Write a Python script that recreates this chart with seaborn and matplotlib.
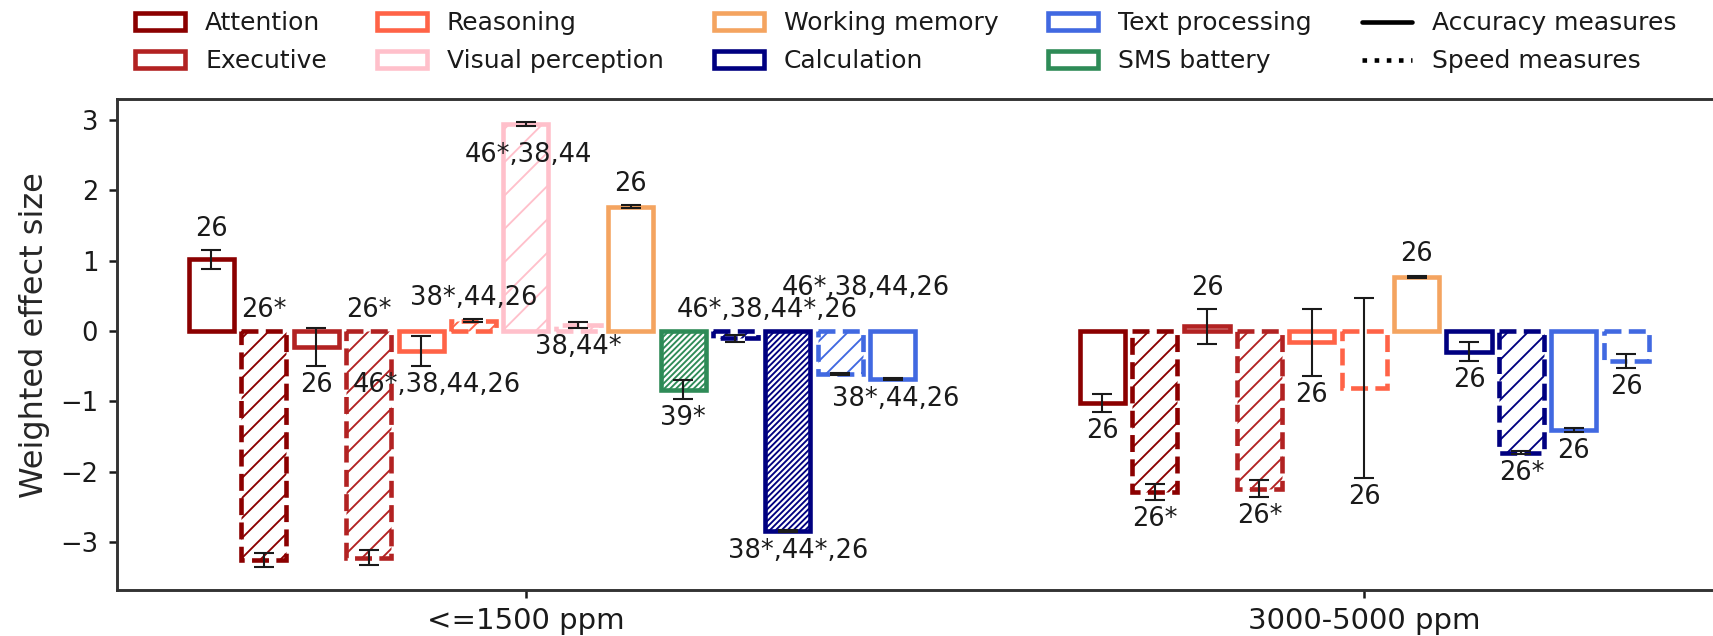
import matplotlib
matplotlib.use("Agg")
import matplotlib.pyplot as plt
from matplotlib.patches import Patch
from matplotlib.lines import Line2D
import pandas as pd
import seaborn as sns

# ---- data -------------------------------------------------------------
domains = ["Attention", "Executive", "Reasoning", "Visual perception",
           "Working memory", "Calculation", "Text processing", "SMS battery"]
domain_colors = ["darkred", "firebrick", "tomato", "pink",
                 "sandybrown", "navy", "royalblue", "seagreen"]

exposure_levels = ["<=1500 ppm", "3000-5000 ppm"]

low_domain = ["Attention", "Attention", "Executive", "Executive",
              "Reasoning", "Reasoning", "Visual perception", "Visual perception",
              "Working memory", "SMS battery", "Calculation", "Calculation",
              "Text processing", "Text processing"]
low_measure = ["accuracy", "speed", "accuracy", "speed", "accuracy", "speed",
               "accuracy", "speed", "accuracy", "accuracy", "speed", "accuracy",
               "speed", "accuracy"]
low_effect = [1.02, -3.26, -0.22, -3.22, -0.28, 0.15, 2.95, 0.09,
              1.77, -0.83, -0.10, -2.84, -0.61, -0.68]
low_err = [0.13, 0.10, 0.27, 0.11, 0.21, 0.02, 0.03, 0.04,
           0.02, 0.13, 0.05, 0.01, 0.01, 0.01]
low_studies = ["26", "26*", "26", "26*", "46*,38,44,26", "38*,44,26",
               "46*,38,44", "38,44*", "26", "39*", "46*,38,44*,26",
               "38*,44*,26", "46*,38,44,26", "38*,44,26"]

high_domain = ["Attention", "Attention", "Executive", "Executive",
               "Reasoning", "Reasoning", "Working memory", "Calculation",
               "Calculation", "Text processing", "Text processing"]
high_measure = ["accuracy", "speed", "accuracy", "speed", "accuracy", "speed",
                "accuracy", "accuracy", "speed", "accuracy", "speed"]
high_effect = [-1.02, -2.29, 0.07, -2.24, -0.16, -0.81, 0.77,
               -0.29, -1.73, -1.40, -0.42]
high_err = [0.13, 0.11, 0.25, 0.12, 0.48, 1.28, 0.02,
            0.13, 0.02, 0.03, 0.10]
high_studies = ["26", "26*", "26", "26*", "26", "26", "26",
                "26", "26*", "26", "26"]

# ---- styling ----------------------------------------------------------
MID, SPARSE, DENSE = "/" * 5, "/" * 3, "/" * 17
low_hatch = ["", MID, "", MID, "", MID, SPARSE, MID, "", DENSE,
             MID, DENSE, MID, ""]
high_hatch = ["", MID, "", MID, "", "", "", "", MID, "", ""]

# where each count label sits relative to its bar, plus small nudges
low_side = ["above", "above", "below", "above", "below", "above", "below",
            "below", "above", "below", "above", "below", "above", "below"]
low_dy = [0, 0, 0, 0, 0, 0, -0.14, 0, 0, 0, 0, 0, 0.32, 0]
low_dx = [0, 0, 0, 0, 0.3, 0, 0.05, 0, 0, 0, 0.6, 0.2, 0.48, 0.05]
high_side = ["below", "below", "above", "below", "below", "below", "above",
             "below", "below", "below", "below"]
high_dy = [0] * 11
high_dx = [0] * 11

GAP = 3  # empty slots between the two exposure groups

sns.set_style("ticks")
plt.rcParams.update({
    "font.family": ["DejaVu Sans"],
    "hatch.linewidth": 0.45,
    "axes.linewidth": 0.7,
    "axes.edgecolor": "0.2",
    "xtick.major.size": 2.0,
    "ytick.major.size": 2.0,
    "xtick.major.width": 0.6,
    "ytick.major.width": 0.6,
    "xtick.major.pad": 2.0,
    "ytick.major.pad": 2.5,
    "text.color": "0.1",
    "xtick.color": "0.1",
    "ytick.color": "0.1",
})

# ---- assemble table ---------------------------------------------------
groups = [
    (low_domain, low_measure, low_effect, low_err, low_studies,
     low_hatch, low_side, low_dy, low_dx),
    (high_domain, high_measure, high_effect, high_err, high_studies,
     high_hatch, high_side, high_dy, high_dx),
]
rows = []
tick_pos = []
start = 0
for g, (dom, meas, eff, err, stu, hat, side, dy, dx) in enumerate(groups):
    n = len(eff)
    for i in range(n):
        rows.append(dict(exposure=exposure_levels[g], slot=start + i,
                         domain=dom[i], measure=meas[i], effect=eff[i],
                         err=err[i], studies=stu[i], hatch=hat[i],
                         side=side[i], dy=dy[i], dx=dx[i]))
    tick_pos.append(start + (n - 1) // 2)
    start += n + GAP
df = pd.DataFrame(rows)
color_of = dict(zip(domains, domain_colors))

# ---- figure -----------------------------------------------------------
W, H, DPI = 1713, 636, 300
fig = plt.figure(figsize=(W / DPI, H / DPI), dpi=DPI)
ax = fig.add_axes([117 / W, 1 - 590 / H, 1603 / W, 491 / H])

sns.barplot(data=df, x="slot", y="effect", native_scale=True, width=0.86,
            errorbar=None, color="white", ax=ax)

by_slot = df.set_index("slot")
for p in ax.patches:
    slot = int(round(p.get_x() + p.get_width() / 2))
    r = by_slot.loc[slot]
    p.set_facecolor("none")
    p.set_edgecolor(color_of[r["domain"]])
    p.set_linewidth(1.1)
    p.set_linestyle("--" if r["measure"] == "speed" else "-")
    p.set_hatch(r["hatch"] or None)
    p.set_zorder(2)

ax.errorbar(df["slot"], df["effect"], yerr=df["err"], fmt="none",
            ecolor="0.1", elinewidth=0.5, capsize=2.4, capthick=0.5,
            zorder=3)

for _, r in df.iterrows():
    if r["side"] == "above":
        y = max(r["effect"] + r["err"], 0) + 0.30
    else:
        y = (r["effect"] - r["err"]) - 0.27
    ax.text(r["slot"] + r["dx"], y + r["dy"], r["studies"],
            ha="center", va="center", fontsize=6.2, zorder=4)

ax.set_xlim(-1.803, 28.79)
ax.set_ylim(-3.68, 3.30)
ax.set_xticks(tick_pos)
ax.set_xticklabels(exposure_levels, fontsize=7)
ax.set_yticks(range(-3, 4))
ax.tick_params(axis="y", labelsize=6.2)
ax.set_xlabel("")
ax.set_ylabel("Weighted effect size", fontsize=7.7)
ax.yaxis.set_label_coords(-0.042, 0.52)
for s in ax.spines.values():
    s.set_visible(True)

handles = [Patch(facecolor="none", edgecolor=c, linewidth=1.1, label=d)
           for d, c in zip(domains, domain_colors)]
handles += [Line2D([], [], color="black", lw=1.1, ls="-",
                   label="Accuracy measures"),
            Line2D([], [], color="black", lw=1.1, ls=":",
                   label="Speed measures")]
fig.legend(handles=handles, ncol=5, loc="upper left",
           bbox_to_anchor=(0.073, 0.998), bbox_transform=fig.transFigure,
           frameon=False, fontsize=6.0, borderaxespad=0,
           labelspacing=0.56, columnspacing=2.0)

fig.savefig("out.png", dpi=DPI)
